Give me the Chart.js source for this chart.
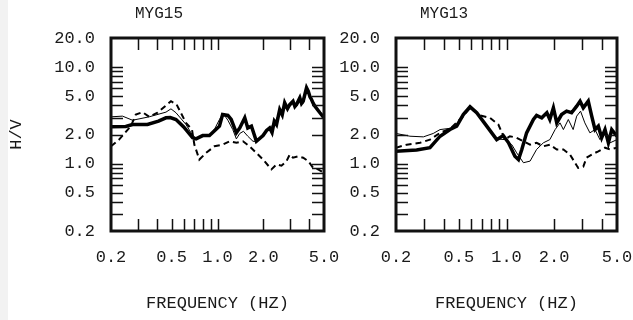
<!DOCTYPE html>
<html><head><meta charset="utf-8">
<script src="https://cdn.jsdelivr.net/npm/chart.js@4"></script>
<style>
html,body{margin:0;padding:0;background:#fff;width:633px;height:320px;overflow:hidden;}
body{position:relative;}
#strip{position:absolute;left:0;top:0;width:8px;height:320px;background:#f2f2f2;}
.wrap{position:absolute;top:0;height:320px;}
#wA{left:0;width:356px;}
#wB{left:330px;width:319px;}
</style></head><body>
<div id="strip"></div>
<div class="wrap" id="wA"><canvas id="cA"></canvas></div>
<div class="wrap" id="wB"><canvas id="cB"></canvas></div>
<script>
const panelTitles = ["MYG15", "MYG13"];
const xTickValues = [0.2, 0.5, 1, 2, 5];
const xTickLabels = ["0.2", "0.5", "1.0", "2.0", "5.0"];
const yTickValues = [0.2, 0.5, 1, 2, 5, 10, 20];
const yTickLabels = ["0.2", "0.5", "1.0", "2.0", "5.0", "10.0", "20.0"];
const xMinorTicks = [0.3, 0.4, 0.5, 0.6, 0.7, 0.8, 0.9, 1, 2, 3, 4];
const yMinorTicks = [0.3, 0.4, 0.5, 0.6, 0.7, 0.8, 0.9, 1, 2, 3, 4, 5, 6, 7, 8, 9, 10];
const xAxisTitle = "FREQUENCY (HZ)";
const yAxisTitle = "H/V";

// MYG15
const myg15ThickF  = [0.2, 0.25, 0.277, 0.347, 0.41, 0.459, 0.49, 0.534, 0.60, 0.687, 0.723, 0.80, 0.885, 0.96, 1.03, 1.08, 1.17, 1.23, 1.33, 1.40, 1.51, 1.58, 1.67, 1.80, 1.99, 2.10, 2.20, 2.28, 2.36, 2.44, 2.56, 2.66, 2.76, 2.88, 2.98, 3.13, 3.22, 3.30, 3.47, 3.56, 3.65, 3.84, 3.94, 4.05, 4.14, 4.25, 4.36, 4.70, 5.0];
const myg15ThickHV = [2.40, 2.42, 2.54, 2.54, 2.75, 2.98, 3.0, 2.86, 2.4, 1.85, 1.80, 1.95, 1.95, 2.2, 2.44, 3.22, 3.15, 2.86, 2.08, 2.34, 2.98, 2.34, 2.44, 1.70, 1.95, 2.2, 2.34, 2.10, 2.75, 2.54, 3.63, 3.2, 4.26, 3.7, 4.09, 4.43, 3.9, 4.09, 4.80, 4.2, 4.43, 6.10, 5.63, 4.9, 4.61, 4.2, 3.93, 3.36, 2.98];
const myg15ThinF   = [0.2, 0.238, 0.277, 0.356, 0.459, 0.495, 0.534, 0.621, 0.687, 0.723, 0.80, 0.885, 0.96, 1.03, 1.09, 1.17, 1.26, 1.33, 1.40, 1.48, 1.58, 1.71, 1.80, 1.99, 2.20, 2.36, 2.56, 2.76, 2.98, 3.13, 3.30, 3.47, 3.65, 3.84, 3.94, 4.14, 4.36, 4.70, 5.0];
const myg15ThinHV  = [3.05, 3.1, 2.81, 3.05, 3.41, 3.69, 3.36, 2.54, 1.95, 1.83, 1.95, 1.95, 2.3, 2.86, 3.30, 2.81, 2.25, 1.80, 2.05, 2.16, 1.92, 1.70, 1.70, 1.95, 2.34, 2.6, 3.4, 4.0, 3.9, 4.2, 3.9, 4.5, 4.2, 5.6, 5.3, 4.4, 3.8, 3.3, 2.9];
const myg15DashF   = [0.2, 0.226, 0.270, 0.291, 0.322, 0.356, 0.404, 0.459, 0.495, 0.539, 0.621, 0.680, 0.705, 0.760, 0.842, 0.955, 1.08, 1.20, 1.33, 1.47, 1.62, 1.80, 1.99, 2.26, 2.44, 2.63, 2.84, 2.98, 3.13, 3.38, 3.65, 3.94, 4.25, 4.58, 5.0];
const myg15DashHV  = [1.51, 1.77, 2.44, 3.22, 3.41, 3.05, 3.36, 4.0, 4.43, 4.09, 2.64, 2.25, 1.57, 1.10, 1.29, 1.51, 1.57, 1.70, 1.64, 1.70, 1.51, 1.29, 1.10, 0.87, 0.98, 0.95, 1.06, 1.24, 1.15, 1.19, 1.15, 1.06, 0.90, 0.87, 0.80];

// MYG13
const myg13ThickF  = [0.2, 0.270, 0.328, 0.380, 0.439, 0.484, 0.533, 0.588, 0.648, 0.750, 0.867, 0.954, 1.03, 1.13, 1.19, 1.25, 1.34, 1.48, 1.55, 1.67, 1.80, 1.88, 1.98, 2.08, 2.23, 2.40, 2.58, 2.78, 2.92, 3.06, 3.29, 3.46, 3.63, 3.81, 4.0, 4.20, 4.41, 4.63, 5.0];
const myg13ThickHV = [1.34, 1.38, 1.46, 1.92, 2.25, 2.44, 3.22, 3.87, 3.36, 2.44, 1.77, 1.95, 1.64, 1.19, 1.10, 1.40, 2.08, 2.86, 3.15, 2.98, 3.36, 2.86, 3.78, 2.64, 3.22, 3.49, 3.36, 3.93, 4.43, 3.78, 4.43, 3.10, 2.25, 2.44, 1.85, 2.25, 1.64, 2.25, 1.92];
const myg13ThinF   = [0.2, 0.245, 0.298, 0.344, 0.380, 0.461, 0.521, 0.588, 0.648, 0.750, 0.867, 0.978, 1.08, 1.16, 1.28, 1.41, 1.55, 1.71, 1.88, 2.03, 2.18, 2.29, 2.46, 2.64, 2.78, 2.94, 3.13, 3.37, 3.63, 3.90, 4.20, 4.52, 5.0];
const myg13ThinHV  = [2.05, 1.92, 1.89, 2.05, 2.25, 2.34, 2.98, 3.78, 3.3, 2.4, 1.8, 1.77, 1.57, 1.29, 1.02, 1.06, 1.40, 1.64, 1.77, 2.25, 2.64, 2.25, 2.86, 2.25, 3.10, 3.49, 2.64, 2.08, 2.25, 1.77, 2.08, 1.64, 1.77];
const myg13DashF   = [0.2, 0.234, 0.284, 0.328, 0.380, 0.439, 0.521, 0.588, 0.680, 0.786, 0.888, 0.978, 1.05, 1.16, 1.28, 1.41, 1.55, 1.71, 1.88, 2.08, 2.29, 2.52, 2.71, 2.84, 3.06, 3.21, 3.46, 3.81, 4.20, 4.52, 5.0];
const myg13DashHV  = [1.46, 1.57, 1.64, 1.77, 2.08, 2.29, 2.98, 3.78, 3.15, 2.98, 2.54, 1.77, 1.92, 1.85, 1.70, 1.57, 1.64, 1.51, 1.57, 1.40, 1.40, 1.24, 1.02, 0.90, 0.93, 1.15, 1.24, 1.34, 1.46, 1.40, 1.46];

const FONT = {family: "'Liberation Mono', 'Courier New', monospace", size: 17};
const TEXT = '#1a1a1a';
const AREA_TOP = 38, AREA_BOTTOM = 231;

function pts(f, v) { return f.map((x, i) => ({x: x, y: v[i]})); }

function series(thickF, thickV, thinF, thinV, dashF, dashV) {
  return [
    {data: pts(thickF, thickV), borderColor: '#000', borderWidth: 3.5, pointRadius: 0, tension: 0, fill: false},
    {data: pts(thinF, thinV), borderColor: '#000', borderWidth: 1, pointRadius: 0, tension: 0, fill: false},
    {data: pts(dashF, dashV), borderColor: '#000', borderWidth: 2, borderDash: [6, 4], pointRadius: 0, tension: 0, fill: false}
  ];
}

const decor = {
  id: 'panelDecor',
  afterDatasetsDraw(chart, args, opts) {
    const {ctx, chartArea: a, scales: {x, y}} = chart;
    ctx.save();
    ctx.strokeStyle = '#111';
    ctx.lineWidth = 1.5;
    const tl = 12;
    ctx.beginPath();
    xMinorTicks.forEach(v => {
      const px = Math.round(x.getPixelForValue(v)) + 0.5;
      ctx.moveTo(px, a.bottom); ctx.lineTo(px, a.bottom - tl);
      ctx.moveTo(px, a.top); ctx.lineTo(px, a.top + tl);
    });
    yMinorTicks.forEach(v => {
      const py = Math.round(y.getPixelForValue(v)) + 0.5;
      ctx.moveTo(a.left, py); ctx.lineTo(a.left + tl, py);
      ctx.moveTo(a.right, py); ctx.lineTo(a.right - tl, py);
    });
    ctx.stroke();
    ctx.lineWidth = 3;
    ctx.strokeRect(a.left, a.top, a.right - a.left, a.bottom - a.top);
    ctx.fillStyle = TEXT;
    ctx.font = "16px 'Liberation Mono', 'Courier New', monospace";
    ctx.textBaseline = 'middle';
    ctx.textAlign = 'left';
    ctx.fillText(opts.title, a.left + 24, 14);
    ctx.restore();
  }
};

function makeChart(id, title, datasets, areaLeft, padRight, showYTitle) {
  return new Chart(document.getElementById(id), {
    type: 'line',
    data: {datasets: datasets},
    plugins: [decor],
    options: {
      responsive: true, maintainAspectRatio: false, animation: false,
      layout: {padding: {left: 0, right: padRight, top: AREA_TOP, bottom: 0}},
      plugins: {legend: {display: false}, tooltip: {enabled: false}, title: {display: false}, panelDecor: {title: title}},
      scales: {
        x: {
          type: 'logarithmic', min: 0.2, max: 5, position: 'bottom',
          afterBuildTicks: s => { s.ticks = xTickValues.map(v => ({value: v})); },
          afterFit: s => { s.height = 320 - AREA_BOTTOM; },
          ticks: {autoSkip: false, maxRotation: 0, minRotation: 0, padding: 16, color: TEXT, font: FONT,
                  callback: (v, i) => xTickLabels[i]},
          grid: {display: false, drawTicks: false}, border: {display: false},
          title: {display: true, text: xAxisTitle, color: TEXT, font: FONT, padding: {top: 0, bottom: 6}}
        },
        y: {
          type: 'logarithmic', min: 0.2, max: 20, position: 'left',
          afterBuildTicks: s => { s.ticks = yTickValues.map(v => ({value: v})); },
          afterFit: s => { s.width = areaLeft; },
          ticks: {autoSkip: false, padding: 16, color: TEXT, font: FONT, callback: (v, i) => yTickLabels[i]},
          grid: {display: false, drawTicks: false}, border: {display: false},
          title: {display: showYTitle, text: yAxisTitle, color: TEXT, font: FONT, padding: {top: 6, bottom: 0}}
        }
      }
    }
  });
}

makeChart('cA', panelTitles[0], series(myg15ThickF, myg15ThickHV, myg15ThinF, myg15ThinHV, myg15DashF, myg15DashHV), 111, 32, true);
makeChart('cB', panelTitles[1], series(myg13ThickF, myg13ThickHV, myg13ThinF, myg13ThinHV, myg13DashF, myg13DashHV), 66, 32, false);
</script>
</body></html>
